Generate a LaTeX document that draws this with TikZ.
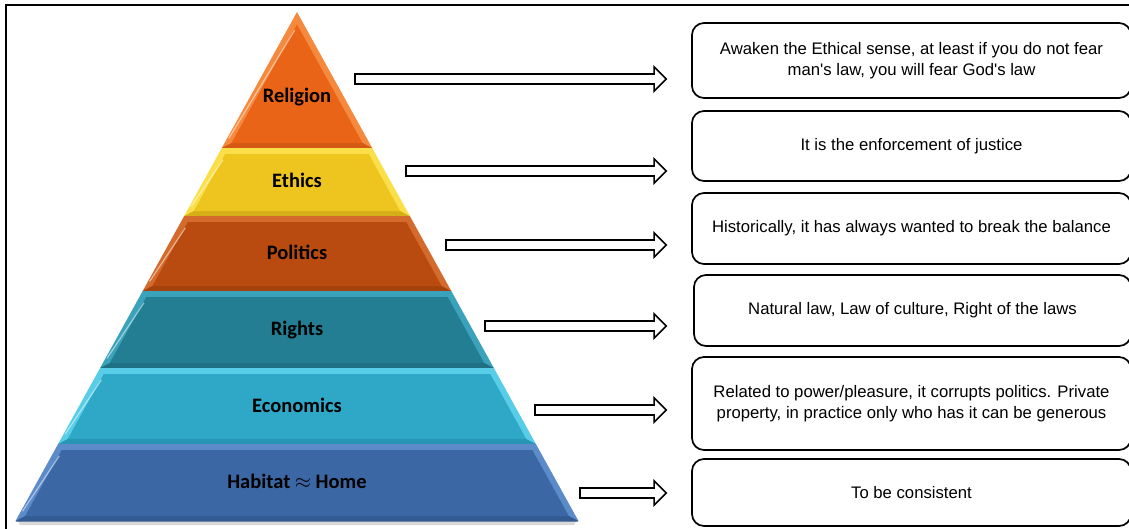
\documentclass[tikz,border=0pt]{standalone}
\usepackage{fontspec}
\setmainfont{Liberation Sans}[Ligatures=TeXOff]
\newfontfamily\pyrfont{Carlito}
\usetikzlibrary{calc}
\definecolor{relB}{HTML}{EA6418}\definecolor{relR}{HTML}{F58A3E}\definecolor{relD}{HTML}{B94C10}
\definecolor{ethB}{HTML}{EEC41E}\definecolor{ethR}{HTML}{FADF48}\definecolor{ethD}{HTML}{B99512}
\definecolor{polB}{HTML}{BA4B10}\definecolor{polR}{HTML}{D46A2C}\definecolor{polD}{HTML}{8A360A}
\definecolor{rigB}{HTML}{237E93}\definecolor{rigR}{HTML}{3AA2BA}\definecolor{rigD}{HTML}{185E6E}
\definecolor{ecoB}{HTML}{2FA8C8}\definecolor{ecoR}{HTML}{58CDE8}\definecolor{ecoD}{HTML}{1E7F99}
\definecolor{habB}{HTML}{3B68A5}\definecolor{habR}{HTML}{5B8BC8}\definecolor{habD}{HTML}{2A4C7C}
\newcommand\pyrlayer[5]{%
 \pgfmathsetmacro\plYa{#1}\pgfmathsetmacro\plYb{#2}%
 \pgfmathsetmacro\plXla{297-0.553*(\plYa-12)}%
 \pgfmathsetmacro\plXra{297+0.553*(\plYa-12)}%
 \pgfmathsetmacro\plXlb{297-0.553*(\plYb-12)}%
 \pgfmathsetmacro\plXrb{297+0.553*(\plYb-12)}%
 \pgfmathsetmacro\plYia{max(\plYa+6,24.5)}%
 \pgfmathsetmacro\plYib{\plYb-5}%
 \pgfmathsetmacro\plXila{297-0.553*(\plYia-12)+6.9}%
 \pgfmathsetmacro\plXira{297+0.553*(\plYia-12)-6.9}%
 \pgfmathsetmacro\plXilb{297-0.553*(\plYib-12)+6.9}%
 \pgfmathsetmacro\plXirb{297+0.553*(\plYib-12)-6.9}%
 \fill[#4] (\plXla,\plYa) -- (\plXra,\plYa) -- (\plXrb,\plYb) -- (\plXlb,\plYb) -- cycle;
 \fill[#5!45!#3] (\plXlb,\plYb) -- (\plXrb,\plYb) -- (\plXirb,\plYib) -- (\plXilb,\plYib) -- cycle;
 \fill[#3] (\plXila,\plYia) -- (\plXira,\plYia) -- (\plXirb,\plYib) -- (\plXilb,\plYib) -- cycle;
 \draw[white, opacity=0.5, line width=1.2pt, line cap=round] ($(\plXila,\plYia)+(-2.5,6)$) -- ($(\plXilb,\plYib)+(-2.5,-5)$);
 \draw[#5, opacity=0.5, line width=0.7pt] (\plXlb,\plYb) -- (\plXrb,\plYb);
}
\newcommand\blockarr[2]{\draw[blockarrow] ($(#1)+(0,-5)$) -- ($(#2)+(-12,-5)$) -- ($(#2)+(-12,-12)$) -- (#2) -- ($(#2)+(-12,12)$) -- ($(#2)+(-12,5)$) -- ($(#1)+(0,5)$) -- cycle;}
\begin{document}
\begin{tikzpicture}[x=1pt,y=-1pt,
  descbox/.style={draw=black, line width=1.7pt, rounded corners=12pt, fill=white, minimum width=439pt, inner sep=0pt, align=center, font=\fontsize{16.7}{21.5}\selectfont},
  layerlabel/.style={font=\pyrfont\bfseries\fontsize{20.5}{24}\selectfont, text=black, inner sep=0pt},
  blockarrow/.style={draw=black, line width=1.6pt, fill=white, line join=miter}]
\useasboundingbox (0,0) rectangle (1129,528);
\clip (0,0) rectangle (1129,528);
\fill[white] (0,0) rectangle (1129,528);
% frame
\draw[line width=2pt] (6,530) -- (6,5) -- (1135,5);
% pyramid
\fill[black!25, opacity=0.6] (18,521) -- (576,521) -- (574,525) -- (20,525) -- cycle;
\pyrlayer{12}{148}{relB}{relR}{relD}
\pyrlayer{148}{216}{ethB}{ethR}{ethD}
\pyrlayer{216}{291}{polB}{polR}{polD}
\pyrlayer{291}{368}{rigB}{rigR}{rigD}
\pyrlayer{368}{444}{ecoB}{ecoR}{ecoD}
\pyrlayer{444}{521}{habB}{habR}{habD}
\node[layerlabel] (lrel) at (297,97) {Religion};
\node[layerlabel] (leth) at (297,180) {Ethics};
\node[layerlabel] (lpol) at (297,252) {Politics};
\node[layerlabel] (lrig) at (297,330) {Rights};
\node[layerlabel] (leco) at (297,405) {Economics};
\node[layerlabel] (lhab) at (297,481) {Habitat $\approx$ Home};
% boxes
\node[descbox, minimum height=75pt] (b1) at (911.5,60.5) {Awaken the Ethical sense, at least if you do not fear\\ man's law, you will fear God's law};
\node[descbox, minimum height=70pt] (b2) at (911.5,146) {It is the enforcement of justice};
\node[descbox, minimum height=71pt] (b3) at (911.5,228.5) {Historically, it has always wanted to break the balance};
\node[descbox, minimum height=71pt, minimum width=437pt] (b4) at (912.5,310.5) {Natural law, Law of culture, Right of the laws};
\node[descbox, minimum height=93pt] (b5) at (911.5,403.5) {Related to power/pleasure, it corrupts politics. Private\\ property, in practice only who has it can be generous};
\node[descbox, minimum height=67pt] (b6) at (911.5,492.5) {To be consistent};
% arrows
\coordinate (s1) at (355,79);
\coordinate (s2) at (406,171);
\coordinate (s3) at (446,245);
\coordinate (s4) at (485,326);
\coordinate (s5) at (535,410);
\coordinate (s6) at (580,493);
\coordinate (e1) at ($(s1 -| b1.west)+(-25,0)$);
\coordinate (e2) at ($(s2 -| b2.west)+(-25,0)$);
\coordinate (e3) at ($(s3 -| b3.west)+(-25,0)$);
\coordinate (e4) at ($(s4 -| b4.west)+(-27,0)$);
\coordinate (e5) at ($(s5 -| b5.west)+(-25,0)$);
\coordinate (e6) at ($(s6 -| b6.west)+(-25,0)$);
\blockarr{s1}{e1}
\blockarr{s2}{e2}
\blockarr{s3}{e3}
\blockarr{s4}{e4}
\blockarr{s5}{e5}
\blockarr{s6}{e6}
\end{tikzpicture}
\end{document}
